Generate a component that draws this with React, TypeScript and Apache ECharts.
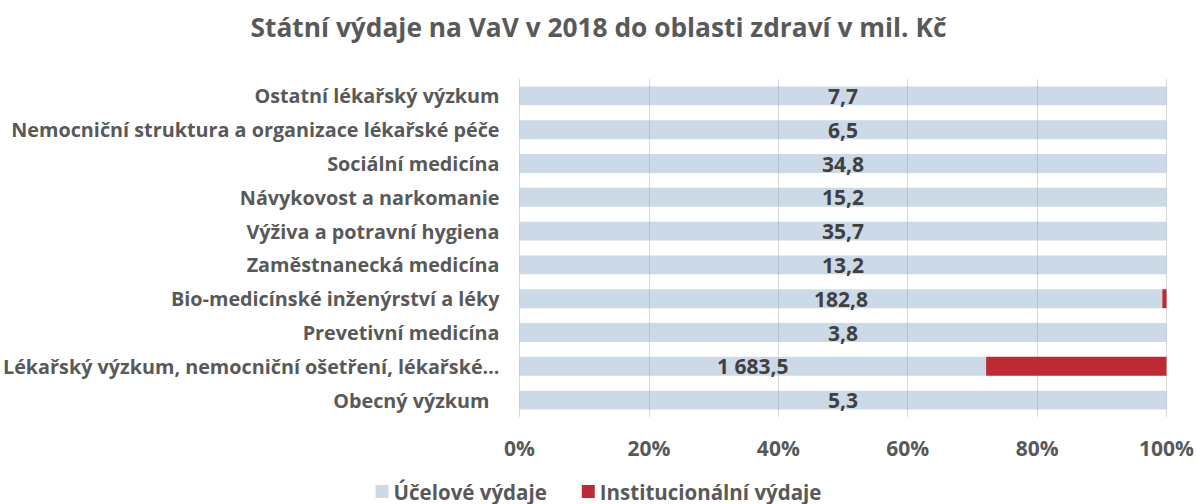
import React, { useEffect, useRef } from "react";
import * as echarts from "echarts";

const categories = [
  "Ostatní lékařský výzkum",
  "Nemocniční struktura a organizace lékařské péče",
  "Sociální medicína",
  "Návykovost a narkomanie",
  "Výživa a potravní hygiena",
  "Zaměstnanecká medicína",
  "Bio-medicínské inženýrství a léky",
  "Prevetivní medicína",
  "Lékařský výzkum, nemocniční ošetření, lékařské…",
  "Obecný výzkum",
];
const ucelove = [7.7, 6.5, 34.8, 15.2, 35.7, 13.2, 182.8, 3.8, 1683.5, 5.3];
const institucionalni = [0, 0, 0, 0, 0, 0, 1.2, 0, 651.0, 0];
const xTicks = [0, 20, 40, 60, 80, 100];
const seriesNames = ["Účelové výdaje", "Institucionální výdaje"];

const FONT = "'Open Sans', 'Noto Sans', sans-serif";

function fmt(v: number): string {
  const [int, dec] = v.toFixed(1).split(".");
  const intS = int.replace(/\B(?=(\d{3})+(?!\d))/g, " ");
  return `${intS},${dec}`;
}

export default function App() {
  const ref = useRef<HTMLDivElement>(null);
  useEffect(() => {
    document.body.style.margin = "0";
    if (!ref.current) return;
    const chart = echarts.init(ref.current, undefined, { renderer: "svg" });
    const totals = ucelove.map((u, i) => u + institucionalni[i]);
    const pctU = ucelove.map((u, i) => (u / totals[i]) * 100);
    const pctI = institucionalni.map((v, i) => (v / totals[i]) * 100);
    chart.setOption({
      animation: false,
      title: {
        text: "Státní výdaje na VaV v 2018 do oblasti zdraví v mil. Kč",
        left: "center",
        top: 9,
        textStyle: { fontFamily: FONT, fontSize: 26.3, fontWeight: "bold", color: "#595959" },
      },
      legend: {
        bottom: -3,
        left: "center",
        itemWidth: 13,
        itemHeight: 13,
        itemGap: 35,
        icon: "rect",
        textStyle: { fontFamily: FONT, fontSize: 20.5, fontWeight: "bold", color: "#595959" },
        data: seriesNames,
      },
      grid: { left: 518, right: 30, top: 79, bottom: 87, containLabel: false },
      xAxis: {
        type: "value",
        min: xTicks[0],
        max: xTicks[xTicks.length - 1],
        interval: 20,
        axisLine: { show: false },
        axisTick: { show: false },
        splitLine: { show: true, lineStyle: { color: "#d9d9d9", width: 1 } },
        axisLabel: {
          formatter: "{value}%",
          margin: 20,
          fontFamily: FONT,
          fontSize: 21,
          fontWeight: "bold",
          color: "#595959",
        },
      },
      yAxis: {
        type: "category",
        inverse: true,
        data: categories,
        axisLine: { show: false },
        axisTick: { show: false },
        axisLabel: {
          margin: 20,
          fontFamily: FONT,
          fontSize: 19.8,
          fontWeight: "bold",
          color: "#595959",
          formatter: (v: string) => (v === "Obecný výzkum" ? `{pad|${v}}` : v),
          rich: {
            pad: {
              padding: [0, 10, 0, 0],
              fontFamily: FONT,
              fontSize: 19.8,
              fontWeight: "bold",
              color: "#595959",
            },
          },
        },
      },
      series: [
        {
          name: seriesNames[0],
          type: "bar",
          stack: "total",
          barCategoryGap: "44%",
          itemStyle: { color: "rgba(127,160,195,0.4)" },
          label: {
            show: true,
            position: "inside",
            fontFamily: FONT,
            fontSize: 21,
            fontWeight: "bold",
            color: "#404040",
            formatter: (p: any) => fmt(ucelove[p.dataIndex]),
          },
          data: pctU,
        },
        {
          name: seriesNames[1],
          type: "bar",
          stack: "total",
          barCategoryGap: "44%",
          itemStyle: { color: "#be2a33" },
          data: pctI,
        },
      ],
    });
    return () => chart.dispose();
  }, []);
  return <div ref={ref} style={{ width: 1197, height: 504 }} />;
}
